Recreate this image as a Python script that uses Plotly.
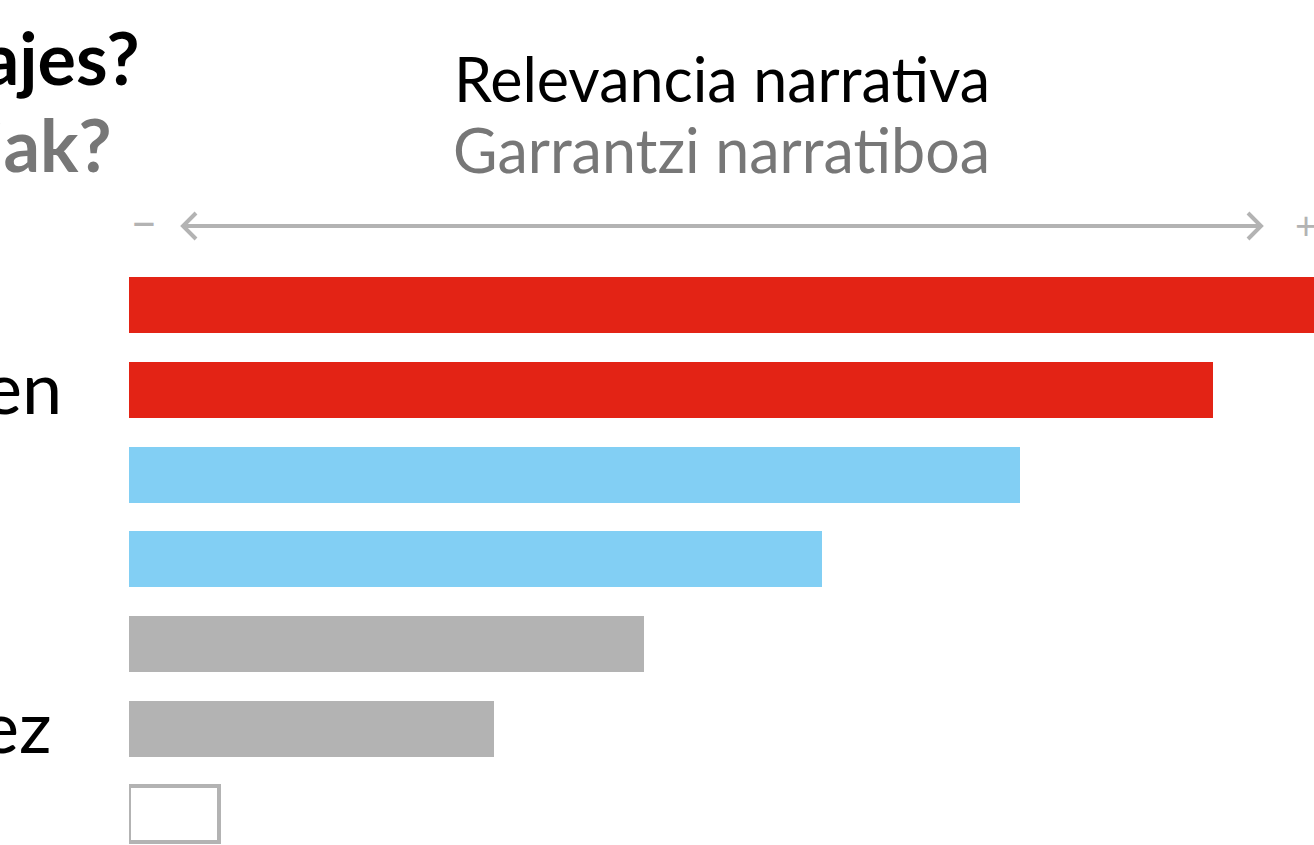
import plotly.graph_objects as go

# ---- data ----
label_fragments = ["", "en", "", "", "", "ez", ""]
values = [106, 91.5, 75.2, 58.5, 43.5, 30.8, 7.6]
bar_colors = ["#e32315", "#e32315", "#82cff4", "#82cff4", "#b3b3b3", "#b3b3b3", "#ffffff"]
outline_widths = [0, 0, 0, 0, 0, 0, 4]
title_es = "personajes?"
title_eu = "pertsonaiak?"
axis_title_es = "Relevancia narrativa"
axis_title_eu = "Garrantzi narratiboa"

W, H = 1314, 845
L = 129
FONT = "Lato"
GRAY = "#b3b3b3"
label_right_px = {"en": 64, "ez": 54}


def xp(p):
    return (p - L) / (W - L)


def yp(p):
    return 1 - p / H


fig = go.Figure()
fig.add_trace(go.Bar(
    x=values,
    y=list(range(len(values))),
    orientation="h",
    width=0.66,
    marker=dict(color=bar_colors, line=dict(color=GRAY, width=outline_widths)),
    hoverinfo="skip",
    showlegend=False,
))

# category labels (visible fragments)
for i, lab in enumerate(label_fragments):
    if lab:
        fig.add_annotation(x=xp(label_right_px[lab]), xref="paper", xanchor="right",
                           y=i - 0.05, yref="y", yanchor="middle",
                           text=lab, showarrow=False,
                           font=dict(family=FONT, size=72, color="#000000"))

# main title (cut off at left edge)
fig.add_annotation(x=xp(142), xref="paper", xanchor="right", y=yp(57), yref="paper",
                   yanchor="middle", text="<b>" + title_es + "</b>", showarrow=False,
                   font=dict(family=FONT, size=72, color="#000000"))
fig.add_annotation(x=xp(114), xref="paper", xanchor="right", y=yp(144), yref="paper",
                   yanchor="middle", text="<b>" + title_eu + "</b>", showarrow=False,
                   font=dict(family=FONT, size=72, color="#777777"))

# axis title
fig.add_annotation(x=0.5, xref="paper", xanchor="center", y=yp(79), yref="paper",
                   yanchor="middle", text=axis_title_es, showarrow=False,
                   font=dict(family=FONT, size=61, color="#000000"))
fig.add_annotation(x=0.5, xref="paper", xanchor="center", y=yp(149), yref="paper",
                   yanchor="middle", text=axis_title_eu, showarrow=False,
                   font=dict(family=FONT, size=61, color="#777777"))

# double arrow
fig.add_shape(type="line", xref="paper", yref="paper",
              x0=xp(183), x1=xp(1261), y0=yp(226), y1=yp(226),
              line=dict(color=GRAY, width=4))
fig.add_shape(type="path", xref="paper", yref="paper",
              path=f"M {xp(196)},{yp(213)} L {xp(183)},{yp(226)} L {xp(196)},{yp(239)}",
              line=dict(color=GRAY, width=4))
fig.add_shape(type="path", xref="paper", yref="paper",
              path=f"M {xp(1248)},{yp(213)} L {xp(1261)},{yp(226)} L {xp(1248)},{yp(239)}",
              line=dict(color=GRAY, width=4))
fig.add_annotation(x=xp(143.5), xref="paper", xanchor="center", y=yp(221), yref="paper",
                   yanchor="middle", text="–", showarrow=False,
                   font=dict(family=FONT, size=48, color=GRAY))
fig.add_annotation(x=xp(1306), xref="paper", xanchor="center", y=yp(224), yref="paper",
                   yanchor="middle", text="+", showarrow=False,
                   font=dict(family=FONT, size=38, color=GRAY))

fig.update_layout(
    width=W, height=H,
    margin=dict(l=L, r=0, t=0, b=0, pad=0),
    paper_bgcolor="#ffffff", plot_bgcolor="#ffffff",
    xaxis=dict(range=[0, 100], visible=False, fixedrange=True),
    yaxis=dict(range=[6.368, -3.597], visible=False, fixedrange=True),
    bargap=0,
)

fig.write_html("out.html", config={"displayModeBar": False},
               post_script="document.body.style.margin='0';")
